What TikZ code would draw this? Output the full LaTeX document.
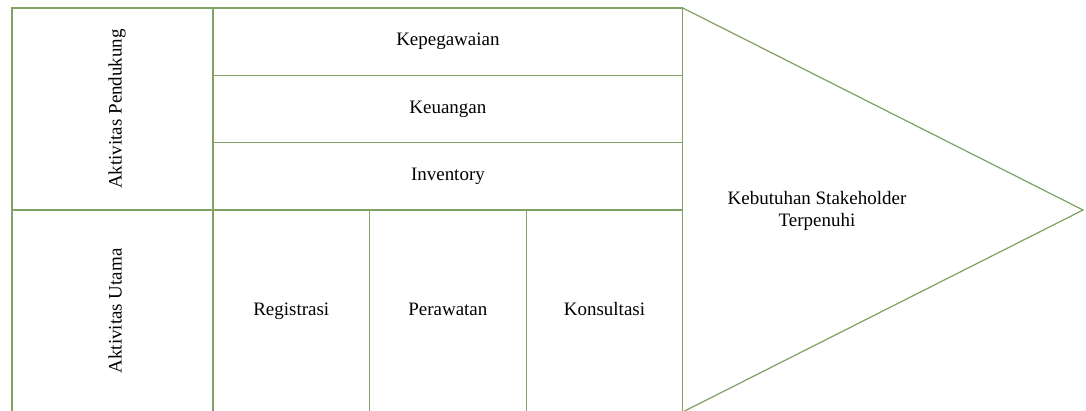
\documentclass[tikz,border=0pt]{standalone}
\usepackage{fontspec}
\setmainfont{Liberation Serif}
\usetikzlibrary{positioning}
\definecolor{lineGreen}{RGB}{128,162,100}

\begin{document}
\begin{tikzpicture}[
    x=0.02cm, y=-0.02cm,
    every node/.style={font=\rmfamily\fontsize{10.8}{13}\selectfont},
    cell/.style={rectangle, draw=lineGreen, line width=0.7pt, inner sep=0pt, outer sep=0pt,
        text height=0.7em, text depth=0.22em},
    side/.style={rotate=90, text height=0.7em, text depth=0.22em}
]
    \useasboundingbox (0,0) rectangle (1086,410);
    \clip (0,0) rectangle (1086,410);

    % left column
    \node[cell, anchor=north west, minimum width=4.02cm, minimum height=4.04cm] (pendukung) at (12,8) {};
    \node[cell, below=0pt of pendukung, minimum width=4.02cm, minimum height=4.04cm] (utama) {};
    \node[side] (pendukungText) at ([xshift=0.1cm]pendukung.center) {Aktivitas Pendukung};
    \node[side] (utamaText) at ([xshift=0.1cm]utama.center) {Aktivitas Utama};

    % support activities
    \node[cell, anchor=north west, minimum width=9.4cm, minimum height=1.347cm] (kepegawaian) at (pendukung.north east) {Kepegawaian};
    \node[cell, below=0pt of kepegawaian, minimum width=9.4cm, minimum height=1.347cm] (keuangan) {Keuangan};
    \node[cell, below=0pt of keuangan, minimum width=9.4cm, minimum height=1.347cm] (inventory) {Inventory};

    % primary activities
    \node[cell, anchor=north west, minimum width=3.133cm, minimum height=4.04cm] (registrasi) at (utama.north east) {Registrasi};
    \node[cell, right=0pt of registrasi, minimum width=3.133cm, minimum height=4.04cm] (perawatan) {Perawatan};
    \node[cell, right=0pt of perawatan, minimum width=3.133cm, minimum height=4.04cm] (konsultasi) {Konsultasi};

    % margin arrow
    \coordinate (tip) at (1083,210);
    \draw[lineGreen, line width=0.7pt] (kepegawaian.north east) -- (tip) -- (konsultasi.south east);
    \node[align=center] (kebutuhan) at (817,211) {Kebutuhan Stakeholder\\Terpenuhi};
\end{tikzpicture}
\end{document}
